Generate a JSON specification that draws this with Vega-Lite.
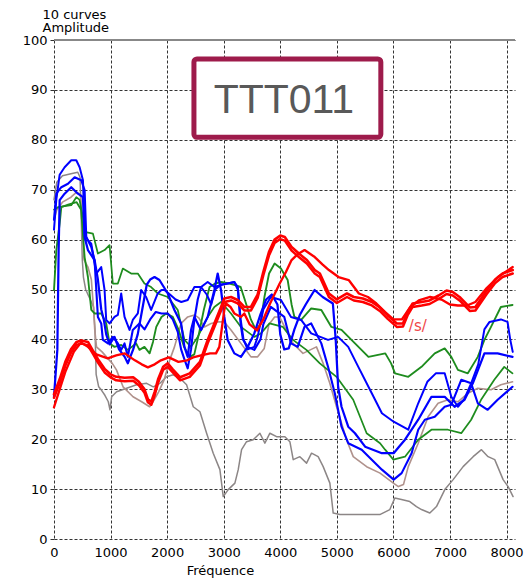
{
  "$schema": "https://vega.github.io/schema/vega-lite/v6.json",
  "width": 461,
  "height": 499,
  "autosize": {"type": "none"},
  "padding": {"left": 54, "top": 40, "right": 12, "bottom": 41},
  "background": "white",
  "config": {"view": {"stroke": null}, "font": "DejaVu Sans"},
  "datasets": {
    "curves": [
      {"s":"Gy","x":0,"y":68},{"s":"Gy","x":50,"y":71.5},{"s":"Gy","x":150,"y":72.8},{"s":"Gy","x":300,"y":73.2},{"s":"Gy","x":420,"y":73.5},{"s":"Gy","x":460,"y":72.5},{"s":"Gy","x":480,"y":65},{"s":"Gy","x":500,"y":56},{"s":"Gy","x":520,"y":52.5},{"s":"Gy","x":560,"y":50},{"s":"Gy","x":620,"y":48.5},{"s":"Gy","x":700,"y":46.5},{"s":"Gy","x":725,"y":42},{"s":"Gy","x":745,"y":33},{"s":"Gy","x":790,"y":30.5},{"s":"Gy","x":835,"y":29.9},{"s":"Gy","x":900,"y":28.8},{"s":"Gy","x":960,"y":27.5},{"s":"Gy","x":990,"y":25.9},{"s":"Gy","x":1019,"y":28.5},{"s":"Gy","x":1107,"y":29.5},{"s":"Gy","x":1284,"y":30.2},{"s":"Gy","x":1460,"y":30.9},{"s":"Gy","x":1637,"y":31.2},{"s":"Gy","x":1755,"y":30.5},{"s":"Gy","x":1873,"y":31.2},{"s":"Gy","x":1991,"y":32.5},{"s":"Gy","x":2109,"y":32.9},{"s":"Gy","x":2227,"y":32.2},{"s":"Gy","x":2344,"y":30.9},{"s":"Gy","x":2462,"y":26.5},{"s":"Gy","x":2580,"y":25.5},{"s":"Gy","x":2698,"y":21.2},{"s":"Gy","x":2815,"y":17.2},{"s":"Gy","x":2933,"y":13.9},{"s":"Gy","x":2992,"y":8.5},{"s":"Gy","x":3080,"y":9.9},{"s":"Gy","x":3198,"y":11.2},{"s":"Gy","x":3257,"y":13.9},{"s":"Gy","x":3316,"y":17.9},{"s":"Gy","x":3404,"y":19.5},{"s":"Gy","x":3522,"y":19.9},{"s":"Gy","x":3640,"y":21.2},{"s":"Gy","x":3728,"y":19.2},{"s":"Gy","x":3817,"y":21.2},{"s":"Gy","x":3935,"y":20.5},{"s":"Gy","x":4082,"y":20.5},{"s":"Gy","x":4170,"y":19.5},{"s":"Gy","x":4229,"y":15.9},{"s":"Gy","x":4347,"y":16.5},{"s":"Gy","x":4465,"y":15.2},{"s":"Gy","x":4553,"y":17.2},{"s":"Gy","x":4670,"y":16.5},{"s":"Gy","x":4759,"y":14.5},{"s":"Gy","x":4877,"y":11.2},{"s":"Gy","x":4936,"y":5.2},{"s":"Gy","x":5054,"y":4.9},{"s":"Gy","x":5400,"y":4.9},{"s":"Gy","x":5760,"y":4.9},{"s":"Gy","x":5937,"y":5.9},{"s":"Gy","x":6025,"y":8.2},{"s":"Gy","x":6143,"y":7.9},{"s":"Gy","x":6290,"y":7.5},{"s":"Gy","x":6408,"y":6.5},{"s":"Gy","x":6497,"y":5.9},{"s":"Gy","x":6644,"y":5.2},{"s":"Gy","x":6762,"y":6.5},{"s":"Gy","x":6909,"y":9.9},{"s":"Gy","x":7056,"y":11.9},{"s":"Gy","x":7233,"y":14.5},{"s":"Gy","x":7410,"y":16.5},{"s":"Gy","x":7557,"y":17.9},{"s":"Gy","x":7674,"y":16.5},{"s":"Gy","x":7792,"y":15.9},{"s":"Gy","x":7940,"y":11.9},{"s":"Gy","x":8028,"y":10.5},{"s":"Gy","x":8116,"y":8.5},

      {"s":"Br","x":0,"y":64},{"s":"Br","x":50,"y":66},{"s":"Br","x":150,"y":67.5},{"s":"Br","x":300,"y":68.5},{"s":"Br","x":400,"y":69.5},{"s":"Br","x":470,"y":69},{"s":"Br","x":500,"y":62},{"s":"Br","x":530,"y":56},{"s":"Br","x":600,"y":54.5},{"s":"Br","x":660,"y":52},{"s":"Br","x":700,"y":46},{"s":"Br","x":720,"y":42},{"s":"Br","x":751,"y":38.5},{"s":"Br","x":850,"y":37.5},{"s":"Br","x":927,"y":36.5},{"s":"Br","x":1030,"y":35.2},{"s":"Br","x":1104,"y":33.9},{"s":"Br","x":1221,"y":30.5},{"s":"Br","x":1397,"y":28.5},{"s":"Br","x":1550,"y":27.5},{"s":"Br","x":1690,"y":26.5},{"s":"Br","x":1750,"y":27.5},{"s":"Br","x":1850,"y":29.5},{"s":"Br","x":1950,"y":32},{"s":"Br","x":2050,"y":36},{"s":"Br","x":2130,"y":38.5},{"s":"Br","x":2247,"y":43.2},{"s":"Br","x":2364,"y":44.5},{"s":"Br","x":2482,"y":44.9},{"s":"Br","x":2560,"y":44.3},{"s":"Br","x":2659,"y":42.5},{"s":"Br","x":2776,"y":43.2},{"s":"Br","x":2894,"y":43.5},{"s":"Br","x":3011,"y":43.5},{"s":"Br","x":3129,"y":41.9},{"s":"Br","x":3305,"y":39.2},{"s":"Br","x":3482,"y":36.5},{"s":"Br","x":3600,"y":36.5},{"s":"Br","x":3717,"y":38.2},{"s":"Br","x":3800,"y":43},{"s":"Br","x":3900,"y":44.5},{"s":"Br","x":3988,"y":44.5},{"s":"Br","x":4100,"y":42},{"s":"Br","x":4225,"y":39.2},{"s":"Br","x":4402,"y":37.2},{"s":"Br","x":4640,"y":38.5},{"s":"Br","x":4758,"y":35.2},{"s":"Br","x":4876,"y":31.2},{"s":"Br","x":4995,"y":26.5},{"s":"Br","x":5172,"y":19.9},{"s":"Br","x":5290,"y":16.5},{"s":"Br","x":5527,"y":14.5},{"s":"Br","x":5764,"y":13.2},{"s":"Br","x":6000,"y":11.2},{"s":"Br","x":6088,"y":10.5},{"s":"Br","x":6178,"y":10.9},{"s":"Br","x":6263,"y":14.5},{"s":"Br","x":6439,"y":19.2},{"s":"Br","x":6614,"y":24.5},{"s":"Br","x":6790,"y":27.2},{"s":"Br","x":6965,"y":27.9},{"s":"Br","x":7140,"y":27.5},{"s":"Br","x":7316,"y":29.2},{"s":"Br","x":7492,"y":30.2},{"s":"Br","x":7726,"y":29.9},{"s":"Br","x":7900,"y":30.9},{"s":"Br","x":8106,"y":31.5},

      {"s":"G1","x":0,"y":66},{"s":"G1","x":70,"y":66.5},{"s":"G1","x":305,"y":66.9},{"s":"G1","x":394,"y":68.5},{"s":"G1","x":450,"y":68},{"s":"G1","x":512,"y":64.5},{"s":"G1","x":560,"y":61.5},{"s":"G1","x":688,"y":61.2},{"s":"G1","x":776,"y":57.2},{"s":"G1","x":894,"y":57.9},{"s":"G1","x":982,"y":58.9},{"s":"G1","x":1040,"y":51.2},{"s":"G1","x":1129,"y":51.2},{"s":"G1","x":1217,"y":54.2},{"s":"G1","x":1364,"y":53.2},{"s":"G1","x":1482,"y":53.2},{"s":"G1","x":1599,"y":51.2},{"s":"G1","x":1717,"y":50.5},{"s":"G1","x":1834,"y":49.2},{"s":"G1","x":2012,"y":48.5},{"s":"G1","x":2188,"y":45.9},{"s":"G1","x":2306,"y":39.9},{"s":"G1","x":2423,"y":38.5},{"s":"G1","x":2541,"y":40.5},{"s":"G1","x":2717,"y":44.5},{"s":"G1","x":2835,"y":46.5},{"s":"G1","x":2953,"y":47.5},{"s":"G1","x":3129,"y":45.2},{"s":"G1","x":3305,"y":42.5},{"s":"G1","x":3541,"y":40.5},{"s":"G1","x":3658,"y":41.2},{"s":"G1","x":3810,"y":43.2},{"s":"G1","x":4047,"y":42.5},{"s":"G1","x":4225,"y":39.9},{"s":"G1","x":4462,"y":37.9},{"s":"G1","x":4700,"y":35.2},{"s":"G1","x":4995,"y":32.5},{"s":"G1","x":5290,"y":27.9},{"s":"G1","x":5527,"y":21.2},{"s":"G1","x":5764,"y":19.2},{"s":"G1","x":5854,"y":17.9},{"s":"G1","x":6000,"y":15.9},{"s":"G1","x":6205,"y":16.5},{"s":"G1","x":6439,"y":19.9},{"s":"G1","x":6673,"y":21.9},{"s":"G1","x":6965,"y":21.9},{"s":"G1","x":7200,"y":21.2},{"s":"G1","x":7375,"y":23.9},{"s":"G1","x":7550,"y":27.9},{"s":"G1","x":7784,"y":31.9},{"s":"G1","x":7960,"y":34.5},{"s":"G1","x":8106,"y":33.2},

      {"s":"G2","x":0,"y":49.9},{"s":"G2","x":41,"y":57.9},{"s":"G2","x":100,"y":63.2},{"s":"G2","x":129,"y":66.5},{"s":"G2","x":250,"y":67},{"s":"G2","x":400,"y":67.5},{"s":"G2","x":480,"y":66},{"s":"G2","x":541,"y":56.5},{"s":"G2","x":600,"y":52.5},{"s":"G2","x":659,"y":45.9},{"s":"G2","x":717,"y":45.2},{"s":"G2","x":835,"y":45.2},{"s":"G2","x":923,"y":43.2},{"s":"G2","x":982,"y":39.2},{"s":"G2","x":1070,"y":38.5},{"s":"G2","x":1188,"y":38.9},{"s":"G2","x":1305,"y":37.9},{"s":"G2","x":1452,"y":39.2},{"s":"G2","x":1511,"y":37.9},{"s":"G2","x":1599,"y":38.5},{"s":"G2","x":1690,"y":37.2},{"s":"G2","x":1750,"y":39.5},{"s":"G2","x":1808,"y":42.5},{"s":"G2","x":1900,"y":44.5},{"s":"G2","x":1984,"y":45.2},{"s":"G2","x":2100,"y":44.5},{"s":"G2","x":2200,"y":42},{"s":"G2","x":2300,"y":38.5},{"s":"G2","x":2400,"y":36.5},{"s":"G2","x":2480,"y":37},{"s":"G2","x":2560,"y":41},{"s":"G2","x":2650,"y":46},{"s":"G2","x":2750,"y":50.5},{"s":"G2","x":2850,"y":51.2},{"s":"G2","x":2950,"y":51.5},{"s":"G2","x":3100,"y":51.2},{"s":"G2","x":3200,"y":50.9},{"s":"G2","x":3300,"y":50.5},{"s":"G2","x":3400,"y":47},{"s":"G2","x":3480,"y":44},{"s":"G2","x":3568,"y":41.9},{"s":"G2","x":3650,"y":43},{"s":"G2","x":3720,"y":48.5},{"s":"G2","x":3802,"y":53.2},{"s":"G2","x":3900,"y":55.2},{"s":"G2","x":4012,"y":54.2},{"s":"G2","x":4131,"y":51.9},{"s":"G2","x":4200,"y":47},{"s":"G2","x":4250,"y":44.5},{"s":"G2","x":4369,"y":43.9},{"s":"G2","x":4547,"y":46.2},{"s":"G2","x":4726,"y":45.9},{"s":"G2","x":4904,"y":42.5},{"s":"G2","x":5083,"y":41.9},{"s":"G2","x":5321,"y":39.2},{"s":"G2","x":5559,"y":36.5},{"s":"G2","x":5857,"y":37.2},{"s":"G2","x":5960,"y":35.2},{"s":"G2","x":6029,"y":33.2},{"s":"G2","x":6263,"y":32.5},{"s":"G2","x":6497,"y":34.5},{"s":"G2","x":6731,"y":37.2},{"s":"G2","x":6907,"y":38.2},{"s":"G2","x":7024,"y":36.5},{"s":"G2","x":7141,"y":33.9},{"s":"G2","x":7316,"y":33.2},{"s":"G2","x":7492,"y":36.5},{"s":"G2","x":7609,"y":39.9},{"s":"G2","x":7726,"y":42.5},{"s":"G2","x":7900,"y":46.5},{"s":"G2","x":8106,"y":46.9},

      {"s":"B1","x":0,"y":62},{"s":"B1","x":41,"y":68},{"s":"B1","x":100,"y":73},{"s":"B1","x":188,"y":74.5},{"s":"B1","x":305,"y":75.9},{"s":"B1","x":394,"y":75.9},{"s":"B1","x":453,"y":74.5},{"s":"B1","x":512,"y":71.9},{"s":"B1","x":541,"y":61.2},{"s":"B1","x":600,"y":59.9},{"s":"B1","x":659,"y":59.2},{"s":"B1","x":747,"y":53.2},{"s":"B1","x":835,"y":54.5},{"s":"B1","x":894,"y":49.9},{"s":"B1","x":923,"y":43.9},{"s":"B1","x":982,"y":43.2},{"s":"B1","x":1070,"y":44.5},{"s":"B1","x":1129,"y":44.9},{"s":"B1","x":1188,"y":49.2},{"s":"B1","x":1247,"y":44.5},{"s":"B1","x":1335,"y":41.9},{"s":"B1","x":1393,"y":43.9},{"s":"B1","x":1482,"y":45.2},{"s":"B1","x":1541,"y":49.9},{"s":"B1","x":1629,"y":48.5},{"s":"B1","x":1717,"y":45.9},{"s":"B1","x":1834,"y":49.2},{"s":"B1","x":1900,"y":49.9},{"s":"B1","x":1953,"y":49.9},{"s":"B1","x":2050,"y":49},{"s":"B1","x":2150,"y":48},{"s":"B1","x":2250,"y":47.5},{"s":"B1","x":2364,"y":47.9},{"s":"B1","x":2482,"y":50.5},{"s":"B1","x":2600,"y":50.5},{"s":"B1","x":2700,"y":49},{"s":"B1","x":2780,"y":47},{"s":"B1","x":2850,"y":50},{"s":"B1","x":2950,"y":51},{"s":"B1","x":3070,"y":51.2},{"s":"B1","x":3188,"y":51.5},{"s":"B1","x":3250,"y":50.5},{"s":"B1","x":3300,"y":44},{"s":"B1","x":3350,"y":40},{"s":"B1","x":3423,"y":38},{"s":"B1","x":3541,"y":38.5},{"s":"B1","x":3600,"y":40.5},{"s":"B1","x":3700,"y":46},{"s":"B1","x":3833,"y":48.5},{"s":"B1","x":4012,"y":47.9},{"s":"B1","x":4190,"y":44.5},{"s":"B1","x":4369,"y":43.9},{"s":"B1","x":4547,"y":41.2},{"s":"B1","x":4845,"y":39.9},{"s":"B1","x":5023,"y":40.5},{"s":"B1","x":5202,"y":38.5},{"s":"B1","x":5380,"y":34.5},{"s":"B1","x":5618,"y":29.2},{"s":"B1","x":5797,"y":25.2},{"s":"B1","x":6005,"y":23.5},{"s":"B1","x":6263,"y":21.9},{"s":"B1","x":6439,"y":27.2},{"s":"B1","x":6600,"y":31.5},{"s":"B1","x":6750,"y":33.2},{"s":"B1","x":6907,"y":33.2},{"s":"B1","x":7024,"y":28.5},{"s":"B1","x":7141,"y":26.5},{"s":"B1","x":7250,"y":28},{"s":"B1","x":7375,"y":31.2},{"s":"B1","x":7500,"y":35},{"s":"B1","x":7609,"y":42},{"s":"B1","x":7700,"y":43.5},{"s":"B1","x":7900,"y":44},{"s":"B1","x":8018,"y":43.5},{"s":"B1","x":8065,"y":40},{"s":"B1","x":8110,"y":37.5},

      {"s":"B2","x":0,"y":64},{"s":"B2","x":41,"y":69.2},{"s":"B2","x":129,"y":70.5},{"s":"B2","x":247,"y":71.2},{"s":"B2","x":365,"y":72.5},{"s":"B2","x":482,"y":71.9},{"s":"B2","x":541,"y":69.9},{"s":"B2","x":570,"y":60.5},{"s":"B2","x":659,"y":58.5},{"s":"B2","x":717,"y":55.9},{"s":"B2","x":776,"y":44.5},{"s":"B2","x":835,"y":43.2},{"s":"B2","x":864,"y":39.9},{"s":"B2","x":953,"y":39.2},{"s":"B2","x":1040,"y":40.5},{"s":"B2","x":1129,"y":39.2},{"s":"B2","x":1188,"y":37.9},{"s":"B2","x":1247,"y":39.2},{"s":"B2","x":1305,"y":36.5},{"s":"B2","x":1393,"y":41.9},{"s":"B2","x":1511,"y":43.2},{"s":"B2","x":1600,"y":42},{"s":"B2","x":1700,"y":44},{"s":"B2","x":1800,"y":45.5},{"s":"B2","x":1900,"y":45.2},{"s":"B2","x":2012,"y":45.2},{"s":"B2","x":2100,"y":44},{"s":"B2","x":2188,"y":41.5},{"s":"B2","x":2247,"y":38},{"s":"B2","x":2306,"y":36},{"s":"B2","x":2364,"y":34.2},{"s":"B2","x":2423,"y":38},{"s":"B2","x":2482,"y":44},{"s":"B2","x":2541,"y":48},{"s":"B2","x":2600,"y":50.5},{"s":"B2","x":2717,"y":51.5},{"s":"B2","x":2835,"y":50.5},{"s":"B2","x":2953,"y":50.9},{"s":"B2","x":3070,"y":51.2},{"s":"B2","x":3188,"y":51.5},{"s":"B2","x":3250,"y":50},{"s":"B2","x":3300,"y":43},{"s":"B2","x":3340,"y":40},{"s":"B2","x":3423,"y":38.5},{"s":"B2","x":3541,"y":37.9},{"s":"B2","x":3650,"y":40},{"s":"B2","x":3700,"y":43},{"s":"B2","x":3833,"y":46.5},{"s":"B2","x":4071,"y":44.5},{"s":"B2","x":4190,"y":39.2},{"s":"B2","x":4309,"y":38.5},{"s":"B2","x":4428,"y":42.5},{"s":"B2","x":4547,"y":43.2},{"s":"B2","x":4726,"y":39.2},{"s":"B2","x":4845,"y":34.5},{"s":"B2","x":4964,"y":29.2},{"s":"B2","x":5083,"y":22.5},{"s":"B2","x":5202,"y":19.2},{"s":"B2","x":5440,"y":17.9},{"s":"B2","x":5618,"y":15.9},{"s":"B2","x":5797,"y":13.9},{"s":"B2","x":6005,"y":11.9},{"s":"B2","x":6146,"y":13.2},{"s":"B2","x":6322,"y":17.2},{"s":"B2","x":6439,"y":21.9},{"s":"B2","x":6556,"y":23.9},{"s":"B2","x":6731,"y":24.5},{"s":"B2","x":6907,"y":26.5},{"s":"B2","x":7024,"y":26.9},{"s":"B2","x":7200,"y":31.9},{"s":"B2","x":7375,"y":31.2},{"s":"B2","x":7492,"y":27.2},{"s":"B2","x":7667,"y":25.9},{"s":"B2","x":7843,"y":27.9},{"s":"B2","x":8106,"y":30.5},

      {"s":"B3","x":0,"y":28.5},{"s":"B3","x":59,"y":37.9},{"s":"B3","x":82,"y":57.9},{"s":"B3","x":100,"y":67.9},{"s":"B3","x":188,"y":69.2},{"s":"B3","x":305,"y":70.5},{"s":"B3","x":423,"y":69.2},{"s":"B3","x":512,"y":68.5},{"s":"B3","x":541,"y":60.5},{"s":"B3","x":600,"y":57.9},{"s":"B3","x":717,"y":55.9},{"s":"B3","x":776,"y":52},{"s":"B3","x":835,"y":46},{"s":"B3","x":880,"y":44},{"s":"B3","x":923,"y":41},{"s":"B3","x":982,"y":39},{"s":"B3","x":1070,"y":40.5},{"s":"B3","x":1150,"y":38},{"s":"B3","x":1250,"y":36.5},{"s":"B3","x":1305,"y":35.2},{"s":"B3","x":1400,"y":38},{"s":"B3","x":1480,"y":41},{"s":"B3","x":1560,"y":46},{"s":"B3","x":1640,"y":51},{"s":"B3","x":1700,"y":52},{"s":"B3","x":1777,"y":52.5},{"s":"B3","x":1864,"y":51.9},{"s":"B3","x":2012,"y":49.2},{"s":"B3","x":2129,"y":45.9},{"s":"B3","x":2247,"y":43.2},{"s":"B3","x":2306,"y":38.5},{"s":"B3","x":2364,"y":36.5},{"s":"B3","x":2423,"y":41.9},{"s":"B3","x":2482,"y":44.5},{"s":"B3","x":2600,"y":41.9},{"s":"B3","x":2717,"y":44.5},{"s":"B3","x":2835,"y":49.9},{"s":"B3","x":2894,"y":53.2},{"s":"B3","x":2953,"y":49.9},{"s":"B3","x":3011,"y":44.5},{"s":"B3","x":3070,"y":39.9},{"s":"B3","x":3188,"y":37.2},{"s":"B3","x":3305,"y":36.5},{"s":"B3","x":3423,"y":38.5},{"s":"B3","x":3541,"y":41.2},{"s":"B3","x":3650,"y":45},{"s":"B3","x":3750,"y":48},{"s":"B3","x":3850,"y":49},{"s":"B3","x":3950,"y":47},{"s":"B3","x":4000,"y":41},{"s":"B3","x":4070,"y":38},{"s":"B3","x":4150,"y":38.2},{"s":"B3","x":4250,"y":42},{"s":"B3","x":4350,"y":45},{"s":"B3","x":4450,"y":47},{"s":"B3","x":4607,"y":49.9},{"s":"B3","x":4750,"y":48.5},{"s":"B3","x":4930,"y":47.2},{"s":"B3","x":4980,"y":40},{"s":"B3","x":5023,"y":30.5},{"s":"B3","x":5083,"y":26.5},{"s":"B3","x":5202,"y":22.5},{"s":"B3","x":5321,"y":21.2},{"s":"B3","x":5500,"y":18.5},{"s":"B3","x":5797,"y":17.2},{"s":"B3","x":6005,"y":17.2},{"s":"B3","x":6100,"y":18.5},{"s":"B3","x":6205,"y":19.9},{"s":"B3","x":6439,"y":23.9},{"s":"B3","x":6673,"y":28.5},{"s":"B3","x":6907,"y":28.5},{"s":"B3","x":7082,"y":26.5},{"s":"B3","x":7258,"y":27.9},{"s":"B3","x":7404,"y":31.2},{"s":"B3","x":7609,"y":37.2},{"s":"B3","x":7843,"y":37.2},{"s":"B3","x":8106,"y":36.5},

      {"s":"R2","x":0,"y":26.4},{"s":"R2","x":100,"y":30},{"s":"R2","x":200,"y":33.5},{"s":"R2","x":350,"y":37.5},{"s":"R2","x":480,"y":39.4},{"s":"R2","x":600,"y":38.5},{"s":"R2","x":750,"y":37},{"s":"R2","x":950,"y":36.2},{"s":"R2","x":1100,"y":36.8},{"s":"R2","x":1250,"y":37.2},{"s":"R2","x":1430,"y":35.8},{"s":"R2","x":1550,"y":35},{"s":"R2","x":1660,"y":34.4},{"s":"R2","x":1780,"y":35},{"s":"R2","x":1890,"y":35.8},{"s":"R2","x":2030,"y":36.4},{"s":"R2","x":2200,"y":35.5},{"s":"R2","x":2350,"y":35.8},{"s":"R2","x":2460,"y":36.4},{"s":"R2","x":2600,"y":36.8},{"s":"R2","x":2760,"y":37.2},{"s":"R2","x":2864,"y":37.2},{"s":"R2","x":2923,"y":38.5},{"s":"R2","x":3011,"y":45.9},{"s":"R2","x":3040,"y":47.2},{"s":"R2","x":3120,"y":46.5},{"s":"R2","x":3188,"y":45.2},{"s":"R2","x":3305,"y":44.5},{"s":"R2","x":3364,"y":45.2},{"s":"R2","x":3460,"y":43},{"s":"R2","x":3590,"y":41.8},{"s":"R2","x":3700,"y":44},{"s":"R2","x":3820,"y":47.2},{"s":"R2","x":3990,"y":51.2},{"s":"R2","x":4100,"y":53.5},{"s":"R2","x":4200,"y":55.9},{"s":"R2","x":4300,"y":57},{"s":"R2","x":4430,"y":57.9},{"s":"R2","x":4610,"y":56.5},{"s":"R2","x":4750,"y":55},{"s":"R2","x":4860,"y":53.9},{"s":"R2","x":5030,"y":52.5},{"s":"R2","x":5210,"y":51.9},{"s":"R2","x":5390,"y":49.2},{"s":"R2","x":5550,"y":48.5},{"s":"R2","x":5700,"y":47.2},{"s":"R2","x":5850,"y":45.5},{"s":"R2","x":6000,"y":44},{"s":"R2","x":6150,"y":44},{"s":"R2","x":6300,"y":46.5},{"s":"R2","x":6450,"y":47.8},{"s":"R2","x":6650,"y":48.5},{"s":"R2","x":6850,"y":48},{"s":"R2","x":7000,"y":47},{"s":"R2","x":7140,"y":46.8},{"s":"R2","x":7300,"y":46.8},{"s":"R2","x":7450,"y":47.5},{"s":"R2","x":7650,"y":50.3},{"s":"R2","x":7850,"y":52.5},{"s":"R2","x":8110,"y":54.5},

      {"s":"R3","x":0,"y":28.3},{"s":"R3","x":100,"y":31.2},{"s":"R3","x":200,"y":34.7},{"s":"R3","x":300,"y":37.3},{"s":"R3","x":400,"y":38.9},{"s":"R3","x":480,"y":39.2},{"s":"R3","x":600,"y":38.8},{"s":"R3","x":700,"y":36.9},{"s":"R3","x":780,"y":35.3},{"s":"R3","x":900,"y":33.3},{"s":"R3","x":1000,"y":32.4},{"s":"R3","x":1100,"y":31.8},{"s":"R3","x":1250,"y":31.6},{"s":"R3","x":1400,"y":31.7},{"s":"R3","x":1500,"y":30.8},{"s":"R3","x":1600,"y":29.3},{"s":"R3","x":1660,"y":27.4},{"s":"R3","x":1720,"y":26.9},{"s":"R3","x":1780,"y":28.8},{"s":"R3","x":1840,"y":31.3},{"s":"R3","x":1930,"y":33.9},{"s":"R3","x":2010,"y":34.5},{"s":"R3","x":2100,"y":33.4},{"s":"R3","x":2230,"y":31.8},{"s":"R3","x":2400,"y":32.5},{"s":"R3","x":2580,"y":34.8},{"s":"R3","x":2717,"y":39.2},{"s":"R3","x":2835,"y":42.5},{"s":"R3","x":2953,"y":45.8},{"s":"R3","x":3011,"y":47.5},{"s":"R3","x":3129,"y":47.8},{"s":"R3","x":3247,"y":47.2},{"s":"R3","x":3364,"y":45.8},{"s":"R3","x":3482,"y":45.8},{"s":"R3","x":3600,"y":48.3},{"s":"R3","x":3700,"y":52.8},{"s":"R3","x":3800,"y":56.8},{"s":"R3","x":3900,"y":59.3},{"s":"R3","x":4000,"y":60.1},{"s":"R3","x":4080,"y":59.8},{"s":"R3","x":4200,"y":57.8},{"s":"R3","x":4350,"y":56.3},{"s":"R3","x":4470,"y":55.2},{"s":"R3","x":4610,"y":53.2},{"s":"R3","x":4700,"y":52.5},{"s":"R3","x":4860,"y":48.5},{"s":"R3","x":5000,"y":47.3},{"s":"R3","x":5180,"y":48.5},{"s":"R3","x":5300,"y":47.8},{"s":"R3","x":5460,"y":47.5},{"s":"R3","x":5620,"y":46.8},{"s":"R3","x":5760,"y":45.7},{"s":"R3","x":5900,"y":44.1},{"s":"R3","x":6060,"y":42.5},{"s":"R3","x":6170,"y":42.6},{"s":"R3","x":6250,"y":44.8},{"s":"R3","x":6340,"y":46.5},{"s":"R3","x":6500,"y":46.8},{"s":"R3","x":6640,"y":47.1},{"s":"R3","x":6800,"y":48.1},{"s":"R3","x":6940,"y":49.1},{"s":"R3","x":7050,"y":48.8},{"s":"R3","x":7170,"y":47.8},{"s":"R3","x":7350,"y":45.7},{"s":"R3","x":7450,"y":45.8},{"s":"R3","x":7650,"y":49.1},{"s":"R3","x":7800,"y":51.3},{"s":"R3","x":7930,"y":52.5},{"s":"R3","x":8110,"y":53.2},

      {"s":"R1","x":0,"y":29},{"s":"R1","x":100,"y":32},{"s":"R1","x":200,"y":35.5},{"s":"R1","x":300,"y":38},{"s":"R1","x":400,"y":39.5},{"s":"R1","x":480,"y":39.8},{"s":"R1","x":600,"y":39.5},{"s":"R1","x":700,"y":37.5},{"s":"R1","x":780,"y":36},{"s":"R1","x":900,"y":34},{"s":"R1","x":1000,"y":33},{"s":"R1","x":1100,"y":32.5},{"s":"R1","x":1250,"y":32.3},{"s":"R1","x":1400,"y":32.4},{"s":"R1","x":1500,"y":31.5},{"s":"R1","x":1600,"y":30},{"s":"R1","x":1660,"y":28},{"s":"R1","x":1720,"y":27.5},{"s":"R1","x":1780,"y":29.5},{"s":"R1","x":1840,"y":32},{"s":"R1","x":1930,"y":34.5},{"s":"R1","x":2010,"y":35.2},{"s":"R1","x":2100,"y":34},{"s":"R1","x":2230,"y":32.4},{"s":"R1","x":2400,"y":33.2},{"s":"R1","x":2580,"y":35.5},{"s":"R1","x":2717,"y":39.9},{"s":"R1","x":2835,"y":43.2},{"s":"R1","x":2953,"y":46.5},{"s":"R1","x":3011,"y":48.2},{"s":"R1","x":3129,"y":48.5},{"s":"R1","x":3247,"y":47.9},{"s":"R1","x":3364,"y":46.5},{"s":"R1","x":3482,"y":46.5},{"s":"R1","x":3600,"y":49},{"s":"R1","x":3700,"y":53.5},{"s":"R1","x":3800,"y":57.5},{"s":"R1","x":3900,"y":60},{"s":"R1","x":4000,"y":60.8},{"s":"R1","x":4080,"y":60.5},{"s":"R1","x":4200,"y":58.5},{"s":"R1","x":4350,"y":57},{"s":"R1","x":4470,"y":55.9},{"s":"R1","x":4610,"y":53.9},{"s":"R1","x":4700,"y":53.2},{"s":"R1","x":4860,"y":49.2},{"s":"R1","x":5000,"y":48},{"s":"R1","x":5180,"y":49.2},{"s":"R1","x":5300,"y":48.5},{"s":"R1","x":5460,"y":48.2},{"s":"R1","x":5620,"y":47.5},{"s":"R1","x":5760,"y":46.4},{"s":"R1","x":5900,"y":44.8},{"s":"R1","x":6060,"y":43.2},{"s":"R1","x":6170,"y":43.2},{"s":"R1","x":6250,"y":45.5},{"s":"R1","x":6340,"y":47.2},{"s":"R1","x":6500,"y":47.5},{"s":"R1","x":6640,"y":47.8},{"s":"R1","x":6800,"y":48.8},{"s":"R1","x":6940,"y":49.8},{"s":"R1","x":7050,"y":49.5},{"s":"R1","x":7170,"y":48.5},{"s":"R1","x":7350,"y":46.4},{"s":"R1","x":7450,"y":46.5},{"s":"R1","x":7650,"y":49.8},{"s":"R1","x":7800,"y":52},{"s":"R1","x":7930,"y":53.2},{"s":"R1","x":8110,"y":53.9}
    ],
    "one": [{"k": 1}]
  },
  "layer": [
    {
      "data": {"name": "curves"},
      "mark": {"type": "line", "strokeJoin": "round", "strokeCap": "round"},
      "encoding": {
        "x": {
          "field": "x", "type": "quantitative",
          "scale": {"domain": [0, 8150], "nice": false, "zero": false},
          "axis": {
            "values": [0, 1000, 2000, 3000, 4000, 5000, 6000, 7000, 8000],
            "format": "d",
            "grid": true, "gridColor": "#333333", "gridDash": [3, 2], "gridWidth": 1, "gridOpacity": 1,
            "domain": false, "ticks": false,
            "labelFont": "DejaVu Sans", "labelFontSize": 13, "labelColor": "#000000",
            "labelPadding": 7, "labelDx": 9, "labelFlush": false, "labelOverlap": false,
            "title": "Fréquence", "titleFont": "DejaVu Sans", "titleFontSize": 13, "titleFontWeight": "normal",
            "titleColor": "#000000", "titleX": 166, "titleY": 35, "titleAlign": "center", "titleBaseline": "alphabetic"
          }
        },
        "y": {
          "field": "y", "type": "quantitative",
          "scale": {"domain": [0, 100], "nice": false},
          "axis": {
            "values": [0, 10, 20, 30, 40, 50, 60, 70, 80, 90, 100],
            "grid": true, "gridColor": "#333333", "gridDash": [3, 2], "gridWidth": 1, "gridOpacity": 1,
            "domain": false, "ticks": true, "tickSize": 4, "tickColor": "#333333",
            "labelFont": "DejaVu Sans", "labelFontSize": 13, "labelColor": "#000000",
            "labelPadding": 3, "labelDy": 3, "labelFlush": false, "labelOverlap": false,
            "title": ["10 curves", "Amplitude"], "titleAngle": 0, "titleFont": "DejaVu Sans", "titleFontSize": 13,
            "titleFontWeight": "normal", "titleColor": "#000000", "titleAlign": "left", "titleBaseline": "alphabetic",
            "titleX": -12, "titleY": -22, "titleLineHeight": 13.5
          }
        },
        "color": {
          "field": "s", "type": "nominal", "legend": null,
          "scale": {
            "domain": ["Gy", "Br", "G1", "G2", "B1", "B2", "B3", "R2", "R3", "R1"],
            "range": ["#8c8686", "#b0928c", "#1e8c1e", "#1e8c1e", "#0000ff", "#0000ff", "#0000ff", "#ff0000", "#ff0000", "#ff0000"]
          }
        },
        "strokeWidth": {
          "field": "s", "type": "ordinal", "legend": null,
          "scale": {
            "domain": ["Gy", "Br", "G1", "G2", "B1", "B2", "B3", "R2", "R3", "R1"],
            "range": [1.5, 2.6, 2.8, 1.8, 2, 2, 1.8, 2.8, 4.5, 5.5]
          }
        },
        "order": {"field": "x", "type": "quantitative"}
      }
    },
    {
      "data": {"name": "one"},
      "mark": {"type": "rule", "color": "#888888", "strokeWidth": 2},
      "encoding": {"y": {"datum": 100}}
    },
    {
      "data": {"name": "one"},
      "mark": {"type": "rect", "fill": "#ffffff", "stroke": "#9e1b4b", "strokeWidth": 5, "cornerRadius": 3},
      "encoding": {
        "x": {"datum": 2474}, "x2": {"datum": 5778},
        "y": {"datum": 96.2}, "y2": {"datum": 80.5}
      }
    },
    {
      "data": {"name": "one"},
      "mark": {"type": "text", "text": "TTT011", "font": "Liberation Sans", "fontSize": 41, "color": "#595959", "align": "center", "baseline": "alphabetic"},
      "encoding": {"x": {"datum": 4064}, "y": {"datum": 85.4}}
    },
    {
      "data": {"name": "one"},
      "mark": {"type": "text", "text": "/s/", "font": "DejaVu Sans", "fontSize": 15, "color": "#f04848", "align": "center", "baseline": "alphabetic"},
      "encoding": {"x": {"datum": 6432}, "y": {"datum": 41.7}}
    }
  ]
}
